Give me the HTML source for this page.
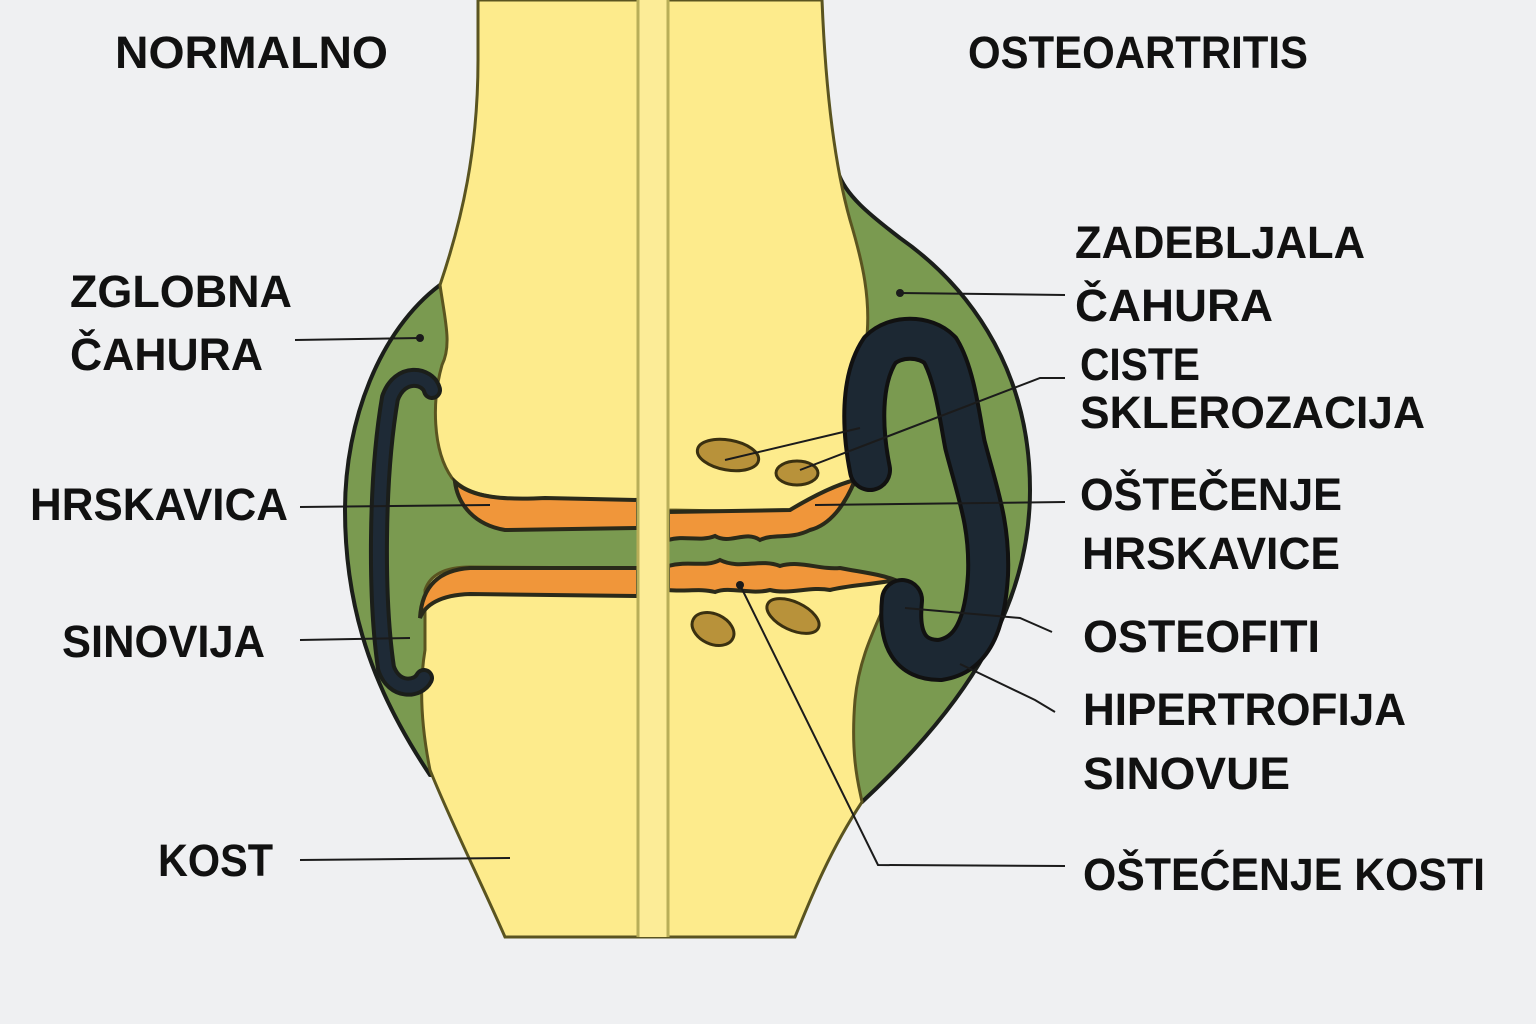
<!DOCTYPE html>
<html><head><meta charset="utf-8"><style>
html,body{margin:0;padding:0;background:#eff0f2;}
svg{display:block}
text{font-family:"Liberation Sans",sans-serif;font-weight:bold;font-size:45px;fill:#111;}
</style></head><body>
<svg width="1536" height="1024" viewBox="0 0 1536 1024" xmlns="http://www.w3.org/2000/svg">
<rect width="1536" height="1024" fill="#eff0f2"/>
<!-- capsule -->
<path d="M440,285 C380,330 345,420 345,510 C345,620 380,700 430,775 L862,802 C950,720 1030,620 1030,490 C1030,360 960,280 900,238 C870,215 845,195 838,172 L600,172 Z" fill="#7a9a50" stroke="#1b1e1a" stroke-width="4"/>
<!-- upper bone -->
<path d="M478,0 L478,60 C478,150 462,220 440,285 C445,320 452,345 442,365 C432,400 432,450 452,478 C470,498 505,500 545,498 L638,500 L668,510 L800,512 C820,505 845,490 860,482 L856,420 C852,400 858,370 866,345 C872,300 862,260 850,220 C836,170 826,100 822,0 Z" fill="#fdeb8c" stroke="#5a5420" stroke-width="3"/>
<!-- lower bone -->
<path d="M425,590 C430,575 445,567 470,567 L638,568 L668,568 L895,580 C880,620 860,650 855,700 C850,760 860,790 862,802 C830,850 810,900 795,937 L505,937 C480,880 450,820 430,770 C420,720 420,680 425,650 Z" fill="#fdeb8c" stroke="#5a5420" stroke-width="3"/>
<!-- orange cartilage left -->
<path d="M455,482 C458,505 475,525 505,530 L638,528 L638,500 L545,498 C505,500 472,498 455,482 Z" fill="#f0963a" stroke="#2a2a1a" stroke-width="4"/>
<path d="M420,618 C422,585 440,570 470,568 L638,568 L638,596 L470,594 C440,595 425,605 420,618 Z" fill="#f0963a" stroke="#2a2a1a" stroke-width="4"/>
<!-- orange right -->
<path d="M668,512 L790,510 C810,498 835,485 855,480 C845,505 830,525 810,530 C790,540 775,533 760,540 C745,530 730,545 715,536 C700,542 685,535 668,540 Z" fill="#f0963a" stroke="#2a2a1a" stroke-width="4"/>
<path d="M668,566 C690,560 705,568 720,560 C740,570 760,558 780,566 C800,560 820,570 840,568 C860,572 880,574 895,580 C870,585 850,585 830,590 C810,586 790,595 770,590 C750,595 730,586 715,592 C700,588 685,592 668,590 Z" fill="#f0963a" stroke="#2a2a1a" stroke-width="4"/>
<!-- center strip -->
<rect x="638" y="0" width="30" height="937" fill="#fcec97"/>
<line x1="638" y1="0" x2="638" y2="937" stroke="#b8ae58" stroke-width="3"/>
<line x1="668" y1="0" x2="668" y2="937" stroke="#b8ae58" stroke-width="3"/>
<!-- synovium left -->
<path d="M432,390 C428,375 400,370 390,398 C376,480 376,600 386,668 C394,692 418,690 424,678" fill="none" stroke="#1b1e1a" stroke-width="20" stroke-linecap="round"/>
<path d="M432,390 C428,375 400,370 390,398 C376,480 376,600 386,668 C394,692 418,690 424,678" fill="none" stroke="#1e2a36" stroke-width="12" stroke-linecap="round"/>
<!-- synovium right -->
<path d="M870,470 C862,430 860,380 880,350 C895,335 925,335 940,350 C955,375 960,420 965,445 C978,495 990,525 988,575 C985,625 972,655 940,660 C910,660 898,640 902,600" fill="none" stroke="#111" stroke-width="44" stroke-linecap="round"/>
<path d="M870,470 C862,430 860,380 880,350 C895,335 925,335 940,350 C955,375 960,420 965,445 C978,495 990,525 988,575 C985,625 972,655 940,660 C910,660 898,640 902,600" fill="none" stroke="#1c2833" stroke-width="36" stroke-linecap="round"/>
<!-- cysts -->
<g fill="#b8923a" stroke="#3a3010" stroke-width="3">
<ellipse cx="728" cy="455" rx="31" ry="15" transform="rotate(10 728 455)"/>
<ellipse cx="797" cy="473" rx="21" ry="12"/>
<ellipse cx="713" cy="629" rx="22" ry="15" transform="rotate(25 713 629)"/>
<ellipse cx="793" cy="616" rx="28" ry="14" transform="rotate(25 793 616)"/>
</g>
<!-- leader lines -->
<g stroke="#1b1b1b" stroke-width="2" fill="none">
<path d="M295,340 L420,338"/><path d="M300,507 L490,505"/><path d="M300,640 L410,638"/><path d="M300,860 L510,858"/>
<path d="M1065,295 L900,293"/><path d="M1065,378 L1040,378 L800,470"/><path d="M860,428 L725,460"/>
<path d="M1065,502 L815,505"/><path d="M1052,632 L1020,618 L905,608"/><path d="M1055,712 L1035,700 L960,664"/>
<path d="M1065,866 L878,865 L740,585"/>
</g>
<g fill="#1b1b1b"><circle cx="420" cy="338" r="4"/><circle cx="900" cy="293" r="4"/><circle cx="740" cy="585" r="4"/></g>
<!-- labels -->
<g lengthAdjust="spacingAndGlyphs">
<text x="115" y="68" textLength="273" lengthAdjust="spacingAndGlyphs">NORMALNO</text>
<text x="968" y="68" textLength="340" lengthAdjust="spacingAndGlyphs">OSTEOARTRITIS</text>
<text x="70" y="307" textLength="222" lengthAdjust="spacingAndGlyphs">ZGLOBNA</text>
<text x="70" y="370" textLength="193" lengthAdjust="spacingAndGlyphs">ČAHURA</text>
<text x="30" y="520" textLength="258" lengthAdjust="spacingAndGlyphs">HRSKAVICA</text>
<text x="62" y="657" textLength="203" lengthAdjust="spacingAndGlyphs">SINOVIJA</text>
<text x="158" y="876" textLength="115" lengthAdjust="spacingAndGlyphs">KOST</text>
<text x="1075" y="258" textLength="290" lengthAdjust="spacingAndGlyphs">ZADEBLJALA</text>
<text x="1075" y="321" textLength="198" lengthAdjust="spacingAndGlyphs">ČAHURA</text>
<text x="1080" y="380" textLength="120" lengthAdjust="spacingAndGlyphs">CISTE</text>
<text x="1080" y="428" textLength="345" lengthAdjust="spacingAndGlyphs">SKLEROZACIJA</text>
<text x="1080" y="510" textLength="262" lengthAdjust="spacingAndGlyphs">OŠTEČENJE</text>
<text x="1082" y="569" textLength="258" lengthAdjust="spacingAndGlyphs">HRSKAVICE</text>
<text x="1083" y="652" textLength="237" lengthAdjust="spacingAndGlyphs">OSTEOFITI</text>
<text x="1083" y="725" textLength="323" lengthAdjust="spacingAndGlyphs">HIPERTROFIJA</text>
<text x="1083" y="789" textLength="207" lengthAdjust="spacingAndGlyphs">SINOVUE</text>
<text x="1083" y="890" textLength="402" lengthAdjust="spacingAndGlyphs">OŠTEĆENJE KOSTI</text>
</g>
</svg>
</body></html>
